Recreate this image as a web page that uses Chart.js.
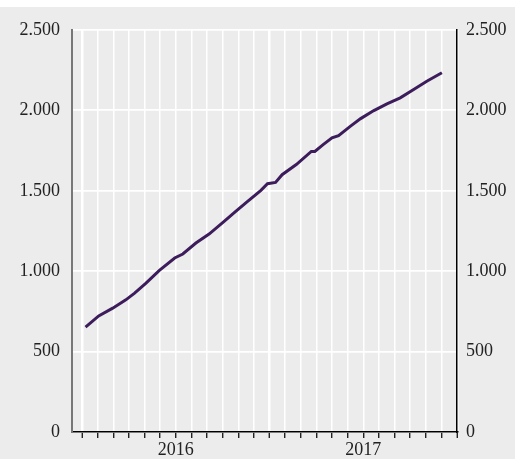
<!DOCTYPE html>
<html>
<head>
<meta charset="utf-8">
<script src="https://cdn.jsdelivr.net/npm/chart.js@4"></script>
<style>
body{margin:0;background:#ececec;width:515px;height:459px;overflow:hidden;position:relative}
#top{position:absolute;left:0;top:0;width:515px;height:7px;background:#fff}
canvas{position:absolute;left:0;top:0}
</style>
</head>
<body>
<div id="top"></div>
<canvas id="chart" width="515" height="459"></canvas>
<script>
// values
const dates=["2016-01-08","2016-02-03","2016-02-29","2016-03-26","2016-04-12","2016-05-04","2016-05-30",
"2016-06-29","2016-07-15","2016-08-10","2016-09-05","2016-10-04","2016-10-27","2016-11-19",
"2016-12-15","2016-12-28","2017-01-13","2017-01-26","2017-02-21","2017-03-22","2017-03-29","2017-04-14",
"2017-05-01","2017-05-14","2017-06-06","2017-06-26","2017-07-22","2017-08-17","2017-09-12","2017-10-08",
"2017-11-03","2017-12-02"]
const values=[652,722,770,822,864,926,1004,
1082,1107,1175,1231,1310,1372,1434,
1503,1544,1552,1600,1663,1745,1745,1787,
1829,1843,1901,1949,1999,2041,2078,2130,
2181,2234]
const yTicks=[0,500,1000,1500,2000,2500]
const years=["2016","2017"]

// months since 1 Jan 2016
function monthPos(s){
  let [y,m,d]=s.split("-").map(Number)
  let dim=new Date(y,m,0).getDate()
  return (y-2016)*12+(m-1)+(d-1)/dim
}

let points=dates.map((d,i)=>({x:monthPos(d),y:values[i]}))

function fmt(v){ return v>=1000 ? Math.floor(v/1000)+"."+String(v%1000).padStart(3,"0") : String(v) }

const font={family:"'Liberation Serif','Times New Roman',serif",size:18}

new Chart(document.getElementById("chart"),{
  type:"line",
  data:{datasets:[{
    data:points,
    borderColor:"#3d1c5c",
    borderWidth:3,
    pointRadius:0,
    fill:false,
    tension:0
  }]},
  options:{
    responsive:false,
    animation:false,
    devicePixelRatio:1,
    layout:{padding:{top:30,left:0,right:0,bottom:0}},
    plugins:{legend:{display:false},tooltip:{enabled:false}},
    scales:{
      x:{
        type:"linear",
        min:-0.64,
        max:24,
        afterBuildTicks:s=>{ s.ticks=[]; for(let i=0;i<=24;i++) s.ticks.push({value:i}) },
        afterFit:s=>{ s.height=27 },
        grid:{color:"#fff",lineWidth:c=>c.tick && c.tick.value%12==0 ? 2.5 : 1.5,tickColor:"#000",tickWidth:1.2,tickLength:6},
        border:{color:"#000",width:1.5},
        ticks:{
          autoSkip:false,maxRotation:0,padding:1,color:"#222",font:font,
          callback:v=> v==6 ? years[0] : v==18 ? years[1] : ""
        }
      },
      y:{
        position:"left",
        min:0,max:2500,
        afterBuildTicks:s=>{ s.ticks=yTicks.map(v=>({value:v})) },
        afterFit:s=>{ s.width=72 },
        grid:{color:"#fff",lineWidth:1.8,drawTicks:false},
        border:{color:"#777",width:2},
        ticks:{padding:12,color:"#222",font:font,callback:v=>fmt(v)}
      },
      y2:{
        position:"right",
        min:0,max:2500,
        afterBuildTicks:s=>{ s.ticks=yTicks.map(v=>({value:v})) },
        afterFit:s=>{ s.width=58 },
        grid:{drawOnChartArea:false,drawTicks:false},
        border:{color:"#000",width:1.5},
        ticks:{padding:9,color:"#222",font:font,callback:v=>fmt(v)}
      }
    }
  }
})
</script>
</body>
</html>
